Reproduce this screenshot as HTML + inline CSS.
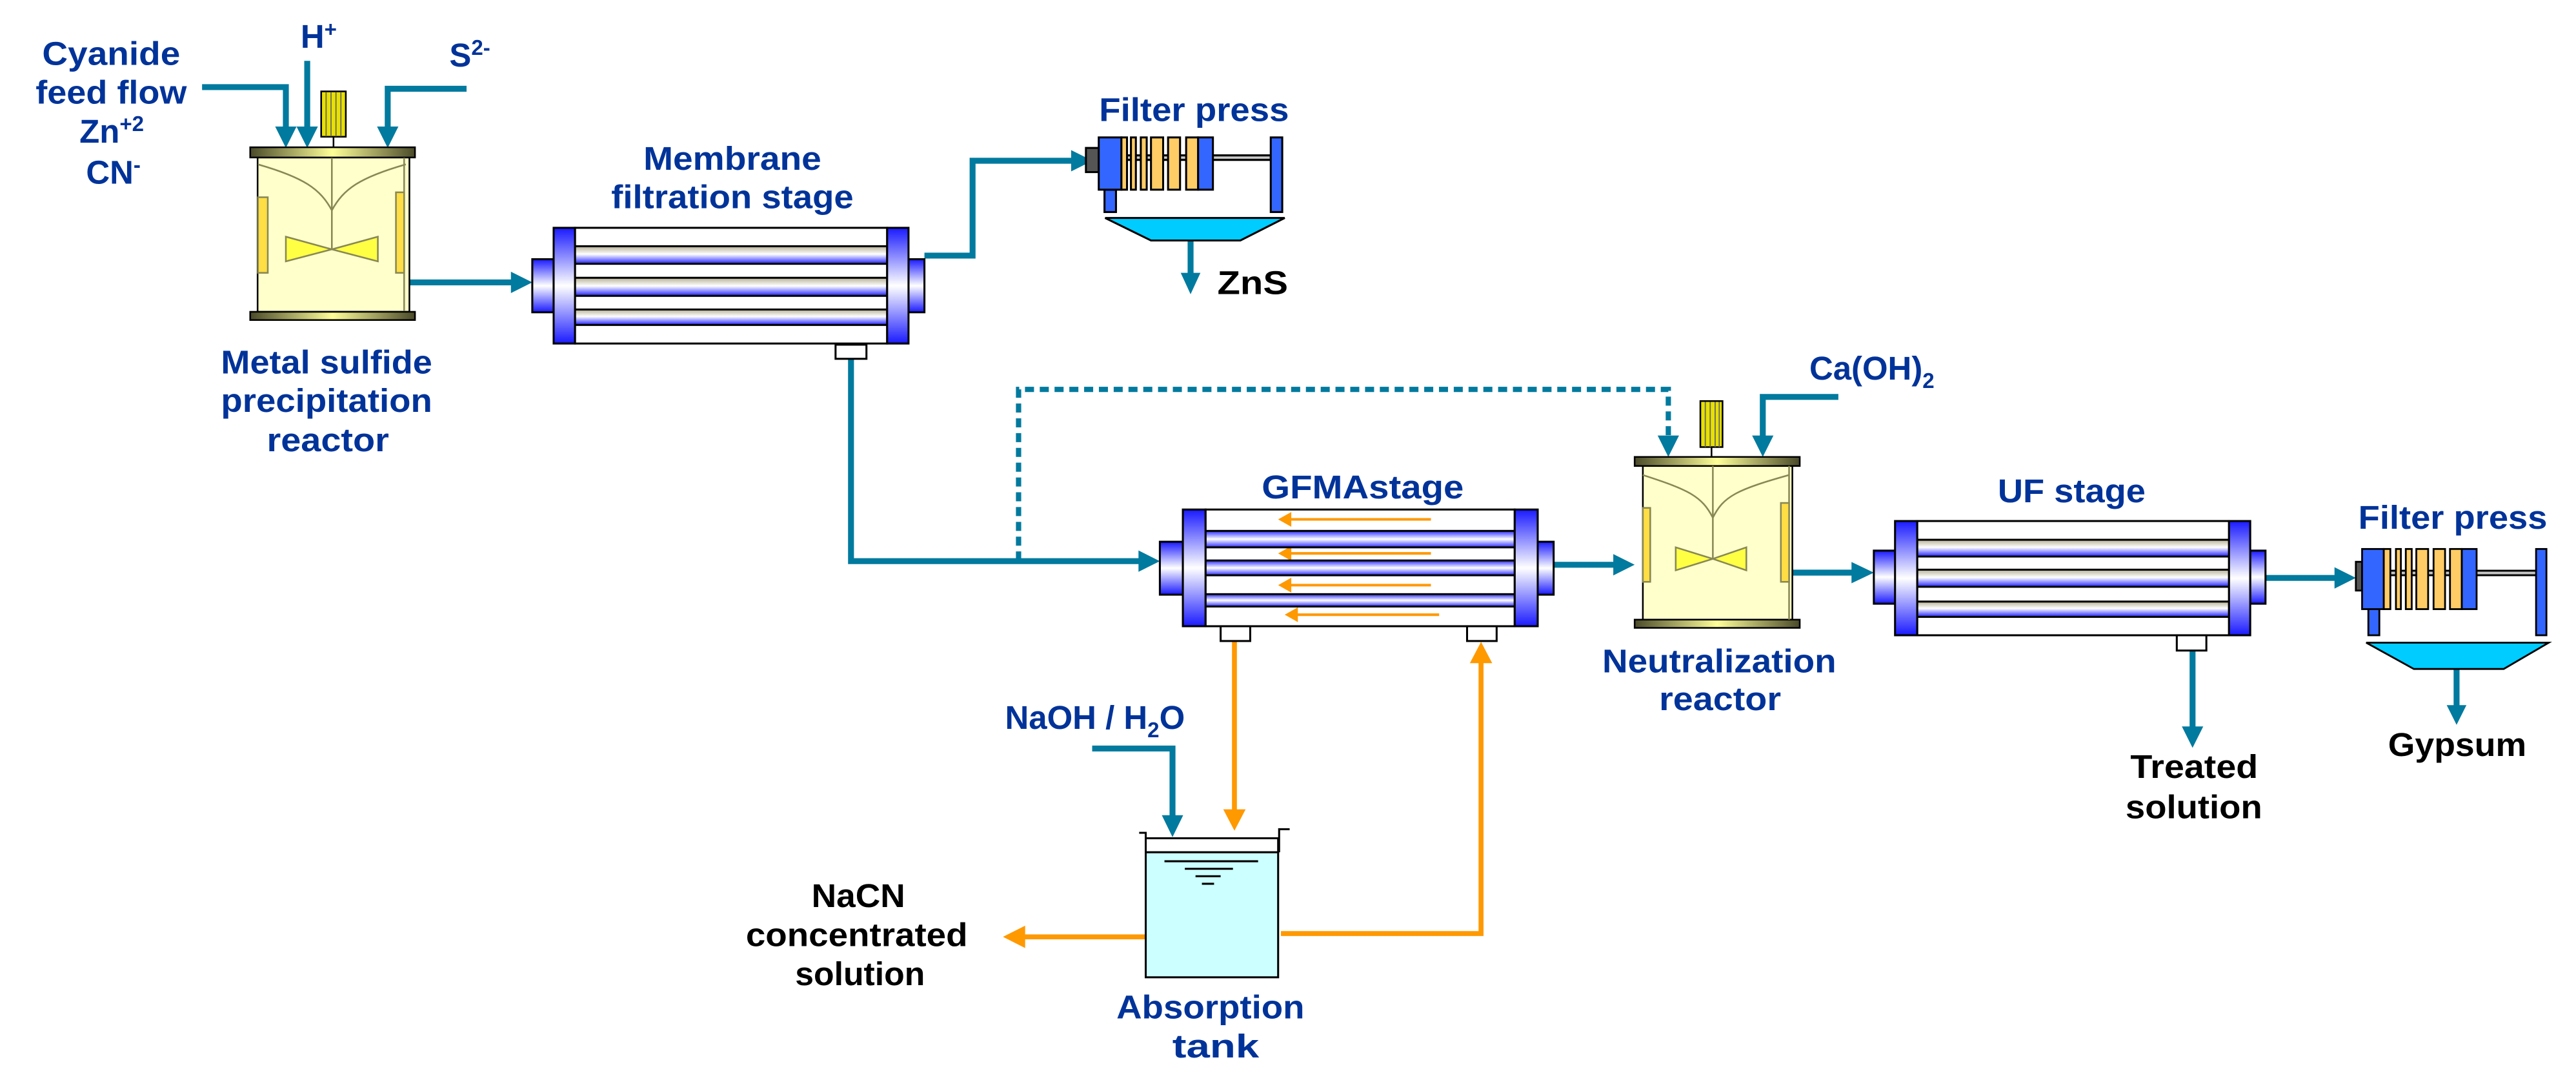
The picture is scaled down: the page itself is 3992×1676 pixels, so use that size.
<!DOCTYPE html>
<html><head><meta charset="utf-8"><style>
html,body{margin:0;padding:0;background:#fff;}
svg{display:block;}
text{font-family:"Liberation Sans",Arial,sans-serif;font-weight:bold;}
.b{fill:#003399;font-size:20px;}
.k{fill:#000;font-size:20px;}
</style></head><body>
<svg width="3992" height="1676" viewBox="0 0 1568 658.3" xmlns="http://www.w3.org/2000/svg">
<defs>
<linearGradient id="fl" x1="0" y1="0" x2="0" y2="1"><stop offset="0" stop-color="#1a1aff"/><stop offset="0.5" stop-color="#ffffff"/><stop offset="1" stop-color="#1a1aff"/></linearGradient>
<linearGradient id="tb" x1="0" y1="0" x2="0" y2="1"><stop offset="0" stop-color="#b5b095"/><stop offset="0.45" stop-color="#ffffff"/><stop offset="1" stop-color="#2020ff"/></linearGradient>
<linearGradient id="tg" x1="0" y1="0" x2="0" y2="1"><stop offset="0" stop-color="#2a2aff"/><stop offset="0.5" stop-color="#ffffff"/><stop offset="1" stop-color="#2a2aff"/></linearGradient>
<linearGradient id="cap" x1="0" y1="0" x2="1" y2="0"><stop offset="0" stop-color="#4a4a2a"/><stop offset="0.5" stop-color="#ffff99"/><stop offset="1" stop-color="#4a4a2a"/></linearGradient>
<linearGradient id="rod" x1="0" y1="0" x2="0" y2="1"><stop offset="0" stop-color="#666"/><stop offset="0.5" stop-color="#ddd"/><stop offset="1" stop-color="#666"/></linearGradient>
</defs>
<g fill="none" stroke="#007a9e" stroke-width="3.6">
<polyline points="123,53 174,53 174,80"/>
<polyline points="187,37 187,80"/>
<polyline points="284,54 236,54 236,80"/>
<polyline points="249,171.8 313,171.8"/>
<polyline points="562.7,155.5 592,155.5 592,97.8 654,97.8"/>
<polyline points="724.7,146.3 724.7,168"/>
<polyline points="518,218 518,341.4 695,341.4"/>
<polyline points="1119,241.5 1073,241.5 1073,267"/>
<polyline points="945.7,343.6 984,343.6"/>
<polyline points="1091,348.4 1129,348.4"/>
<polyline points="1379,351.6 1422,351.6"/>
<polyline points="1334.6,395.8 1334.6,443"/>
<polyline points="1495.3,407 1495.3,430"/>
<polyline points="664.8,455.4 713.7,455.4 713.7,498"/>
<polyline points="620,341 620,236.9 1015.5,236.9 1015.5,266" stroke-dasharray="5.5 3.5" stroke-width="3.2"/>
</g>
<g fill="#007a9e">
<polygon points="167.5,77 180.5,77 174,90"/>
<polygon points="180.5,77 193.5,77 187,90"/>
<polygon points="229.5,77 242.5,77 236,90"/>
<polygon points="311,165.3 311,178.3 324,171.8"/>
<polygon points="652,91.3 652,104.3 665,97.8"/>
<polygon points="718.7,166 730.7,166 724.7,179"/>
<polygon points="693,334.9 693,347.9 706,341.4"/>
<polygon points="1066.5,265 1079.5,265 1073,278"/>
<polygon points="1009,265 1022,265 1015.5,278"/>
<polygon points="982,337.1 982,350.1 995,343.6"/>
<polygon points="1127,341.9 1127,354.9 1140.6,348.4"/>
<polygon points="1421,345.1 1421,358.1 1434,351.6"/>
<polygon points="1328.1,442 1341.1,442 1334.6,455"/>
<polygon points="1489.3,429 1501.3,429 1495.3,441"/>
<polygon points="707.2,496 720.2,496 713.7,509.3"/>
</g>
<g fill="none" stroke="#ff9900" stroke-width="3">
<polyline points="751.4,390 751.4,494"/>
<polyline points="779.7,568 901.5,568 901.5,402"/>
<polyline points="697.4,570 622,570"/>
<polyline points="784,316 871,316" stroke-width="1.6"/><polyline points="784,336.7 871,336.7" stroke-width="1.6"/>
<polyline points="784,356 871,356" stroke-width="1.6"/><polyline points="788,374 876,374" stroke-width="1.6"/>
</g>
<g fill="#ff9900">
<polygon points="744.6,492.4 758.2,492.4 751.4,505.4"/>
<polygon points="894.7,403.5 908.3,403.5 901.5,390.5"/>
<polygon points="624,563.2 624,576.8 610.5,570"/>
<polygon points="786,311.5 786,320.5 778,316"/><polygon points="786,332.2 786,341.2 778,336.7"/>
<polygon points="786,351.5 786,360.5 778,356"/><polygon points="790,369.5 790,378.5 782,374"/>
</g>
<!-- Reactor 1 -->
<g stroke="#000" stroke-width="1">
<line x1="203" y1="83" x2="203" y2="90"/>
<rect x="195.5" y="55.6" width="15" height="27.6" fill="#e8e000"/>
<rect x="156.8" y="95.8" width="92.4" height="93.9" fill="#ffffcc"/>
<rect x="152.3" y="89.6" width="100.3" height="6.2" fill="url(#cap)"/>
<rect x="152.3" y="189.7" width="100.3" height="5" fill="url(#cap)"/>
</g>
<g stroke="#666" stroke-width="0.7"><line x1="198.5" y1="56" x2="198.5" y2="83"/><line x1="201.5" y1="56" x2="201.5" y2="83"/><line x1="204.5" y1="56" x2="204.5" y2="83"/><line x1="207.5" y1="56" x2="207.5" y2="83"/></g>
<g stroke="#888855" stroke-width="1" fill="none">
<line x1="202" y1="96" x2="202" y2="152"/>
<path d="M157,100 C185,108 195,115 202,128 C209,115 219,108 247,100"/>
<line x1="246" y1="96" x2="246" y2="189"/>
<rect x="157" y="120" width="6" height="46" fill="#ffdd44"/>
<rect x="241" y="117" width="5" height="49" fill="#ffdd44"/>
<polygon points="174,144 202,151.7 174,159 " fill="#ffff44"/>
<polygon points="230,144 202,151.7 230,159" fill="#ffff44"/>
</g>
<!-- Reactor 2 -->
<g stroke="#000" stroke-width="1">
<line x1="1041.8" y1="272" x2="1041.8" y2="278"/>
<rect x="1035" y="244" width="13.5" height="28" fill="#e8e000"/>
<rect x="1000" y="283" width="91" height="94" fill="#ffffcc"/>
<rect x="995" y="278" width="100.5" height="5.5" fill="url(#cap)"/>
<rect x="995" y="377" width="100.5" height="5" fill="url(#cap)"/>
</g>
<g stroke="#666" stroke-width="0.7"><line x1="1038" y1="244.5" x2="1038" y2="272"/><line x1="1041" y1="244.5" x2="1041" y2="272"/><line x1="1044" y1="244.5" x2="1044" y2="272"/><line x1="1046.5" y1="244.5" x2="1046.5" y2="272"/></g>
<g stroke="#888855" stroke-width="1" fill="none">
<line x1="1042.6" y1="283.5" x2="1042.6" y2="340"/>
<path d="M1000,289 C1028,298 1036,302 1042.6,315 C1049,302 1057,298 1089,289"/>
<line x1="1089" y1="283.5" x2="1089" y2="377"/>
<rect x="1000" y="309" width="4.5" height="45" fill="#ffdd44"/>
<rect x="1084" y="306" width="5" height="48" fill="#ffdd44"/>
<polygon points="1020,333 1042.6,340 1020,347" fill="#ffff44"/>
<polygon points="1063,333 1042.6,340 1063,347" fill="#ffff44"/>
</g>
<!-- Membrane module -->
<g stroke="#000" stroke-width="1.2">
<rect x="350" y="138.6" width="190" height="70.4" fill="#fff"/>
<rect x="350" y="149.8" width="190" height="10.7" fill="url(#tb)"/>
<rect x="350" y="169" width="190" height="11" fill="url(#tb)"/>
<rect x="350" y="188.3" width="190" height="9.4" fill="url(#tb)"/>
<rect x="324" y="157.7" width="13" height="32.3" fill="url(#fl)"/>
<rect x="553" y="157.7" width="9.7" height="32.3" fill="url(#fl)"/>
<rect x="337" y="138.6" width="13" height="70.4" fill="url(#fl)"/>
<rect x="540" y="138.6" width="13" height="70.4" fill="url(#fl)"/>
<rect x="508.6" y="209.7" width="18.8" height="8.6" fill="#fff"/>
</g>
<!-- GFMA module -->
<g stroke="#000" stroke-width="1.2">
<rect x="733.8" y="310" width="188.2" height="71" fill="none"/>
<rect x="733.8" y="323" width="188.2" height="10" fill="url(#tg)"/>
<rect x="733.8" y="341" width="188.2" height="9" fill="url(#tg)"/>
<rect x="733.8" y="361.5" width="188.2" height="7.5" fill="url(#tg)"/>
<rect x="706" y="329.6" width="14" height="32.2" fill="url(#fl)"/>
<rect x="936" y="329.6" width="9.7" height="32.2" fill="url(#fl)"/>
<rect x="720" y="310" width="13.8" height="71" fill="url(#fl)"/>
<rect x="922" y="310" width="14" height="71" fill="url(#fl)"/>
<rect x="743" y="381" width="18" height="9" fill="#fff"/>
<rect x="893" y="381" width="18" height="9" fill="#fff"/>
</g>
<!-- UF module -->
<g stroke="#000" stroke-width="1.2">
<rect x="1167" y="317" width="189.8" height="69.5" fill="#fff"/>
<rect x="1167" y="328.4" width="189.8" height="10.2" fill="url(#tb)"/>
<rect x="1167" y="346.6" width="189.8" height="10.4" fill="url(#tb)"/>
<rect x="1167" y="366" width="189.8" height="9.3" fill="url(#tb)"/>
<rect x="1140.6" y="335" width="13.8" height="32.3" fill="url(#fl)"/>
<rect x="1369.7" y="335" width="9.3" height="32.3" fill="url(#fl)"/>
<rect x="1153.5" y="317" width="13.5" height="69.5" fill="url(#fl)"/>
<rect x="1356.8" y="317" width="12.9" height="69.5" fill="url(#fl)"/>
<rect x="1325" y="386.5" width="18" height="9.3" fill="#fff"/>
</g>
<!-- Filter press 1 -->
<g stroke="#000" stroke-width="1.2">
<rect x="682" y="94.5" width="91.5" height="2.8" fill="url(#rod)"/>
<rect x="661" y="90" width="7.8" height="14.7" fill="#555"/>
<rect x="672.3" y="115.4" width="7" height="13.6" fill="#3366ff"/>
<rect x="668.8" y="83.6" width="13.8" height="31.8" fill="#3366ff"/>
<rect x="682.6" y="83.6" width="3.4" height="31.8" fill="#ffcc66"/>
<rect x="688.4" y="83.6" width="3" height="31.8" fill="#ffcc66"/>
<rect x="694.4" y="83.6" width="3.6" height="31.8" fill="#ffcc66"/>
<rect x="700.6" y="83.6" width="7.4" height="31.8" fill="#ffcc66"/>
<rect x="711" y="83.6" width="7.3" height="31.8" fill="#ffcc66"/>
<rect x="722" y="83.6" width="7.3" height="31.8" fill="#ffcc66"/>
<rect x="729.3" y="83.6" width="9" height="31.8" fill="#3366ff"/>
<rect x="773.5" y="83.6" width="7" height="45.4" fill="#3366ff"/>
<polygon points="672.7,132.6 782,132.6 755,146.3 700.6,146.3" fill="#00ccff"/>
</g>
<!-- Filter press 2 -->
<g stroke="#000" stroke-width="1.1">
<rect x="1451" y="347.2" width="93" height="2.8" fill="url(#rod)"/>
<rect x="1434" y="341.8" width="3.8" height="17.5" fill="#555"/>
<rect x="1441.6" y="370.6" width="6.7" height="15.9" fill="#3366ff"/>
<rect x="1437.8" y="334" width="13.2" height="36.6" fill="#3366ff"/>
<rect x="1451" y="334" width="4" height="36.6" fill="#ffcc66"/>
<rect x="1458.4" y="334" width="3" height="36.6" fill="#ffcc66"/>
<rect x="1464.4" y="334" width="3.6" height="36.6" fill="#ffcc66"/>
<rect x="1470.8" y="334" width="7.2" height="36.6" fill="#ffcc66"/>
<rect x="1481.3" y="334" width="7" height="36.6" fill="#ffcc66"/>
<rect x="1491.3" y="334" width="7.2" height="36.6" fill="#ffcc66"/>
<rect x="1498.5" y="334" width="9" height="36.6" fill="#3366ff"/>
<rect x="1543.7" y="334" width="6.3" height="52.5" fill="#3366ff"/>
<polygon points="1440.3,391 1551.4,391 1524,407 1469.3,407" fill="#00ccff"/>
</g>
<!-- Absorption tank -->
<g stroke="#000" stroke-width="1.2">
<rect x="697.4" y="518.5" width="80.6" height="76.1" fill="#ccffff"/>
<rect x="697.4" y="510" width="80.6" height="8.5" fill="#fff"/>
<polyline points="693.4,506.7 697.4,506.7 697.4,510" fill="none"/>
<polyline points="778.6,518.5 778.6,504.5 785,504.5" fill="none"/>
<line x1="708.8" y1="524" x2="765.8" y2="524"/>
<line x1="721.2" y1="528.6" x2="750.5" y2="528.6"/>
<line x1="727.7" y1="533.1" x2="743" y2="533.1"/>
<line x1="731.6" y1="537.7" x2="739" y2="537.7"/>
</g>
<!-- Labels -->
<text class="b" x="67.7" y="39.5" text-anchor="middle" textLength="84" lengthAdjust="spacingAndGlyphs">Cyanide</text>
<text class="b" x="67.7" y="63" text-anchor="middle" textLength="92" lengthAdjust="spacingAndGlyphs">feed flow</text>
<text class="b" x="68" y="86.8" text-anchor="middle">Zn<tspan font-size="13" dy="-7">+2</tspan></text>
<text class="b" x="69" y="111.7" text-anchor="middle">CN<tspan font-size="13" dy="-7">-</tspan></text>
<text class="b" x="194" y="29.1" text-anchor="middle">H<tspan font-size="13" dy="-7">+</tspan></text>
<text class="b" x="286" y="40.4" text-anchor="middle">S<tspan font-size="13" dy="-7">2-</tspan></text>
<text class="b" x="198.8" y="227.2" text-anchor="middle" textLength="128.6" lengthAdjust="spacingAndGlyphs">Metal sulfide</text>
<text class="b" x="198.8" y="250.6" text-anchor="middle" textLength="128.6" lengthAdjust="spacingAndGlyphs">precipitation</text>
<text class="b" x="199.6" y="274.5" text-anchor="middle" textLength="74.4" lengthAdjust="spacingAndGlyphs">reactor</text>
<text class="b" x="445.8" y="103.3" text-anchor="middle" textLength="108.3" lengthAdjust="spacingAndGlyphs">Membrane</text>
<text class="b" x="445.8" y="126.7" text-anchor="middle" textLength="147.5" lengthAdjust="spacingAndGlyphs">filtration stage</text>
<text class="b" x="726.8" y="73.6" text-anchor="middle" textLength="115.6" lengthAdjust="spacingAndGlyphs">Filter press</text>
<text class="k" x="762.5" y="179" text-anchor="middle" textLength="43" lengthAdjust="spacingAndGlyphs">ZnS</text>
<text class="b" x="829.5" y="303.3" text-anchor="middle" textLength="123" lengthAdjust="spacingAndGlyphs">GFMAstage</text>
<text class="b" x="1139.4" y="231" text-anchor="middle">Ca(OH)<tspan font-size="13" dy="5">2</tspan></text>
<text class="b" x="1046.5" y="409" text-anchor="middle" textLength="142.4" lengthAdjust="spacingAndGlyphs">Neutralization</text>
<text class="b" x="1047" y="432" text-anchor="middle" textLength="74.2" lengthAdjust="spacingAndGlyphs">reactor</text>
<text class="b" x="1261" y="305.6" text-anchor="middle" textLength="90" lengthAdjust="spacingAndGlyphs">UF stage</text>
<text class="b" x="1493" y="321.7" text-anchor="middle" textLength="115" lengthAdjust="spacingAndGlyphs">Filter press</text>
<text class="k" x="1335.6" y="473.3" text-anchor="middle" textLength="77.7" lengthAdjust="spacingAndGlyphs">Treated</text>
<text class="k" x="1335.4" y="497.8" text-anchor="middle" textLength="83.2" lengthAdjust="spacingAndGlyphs">solution</text>
<text class="k" x="1495.7" y="460" text-anchor="middle" textLength="84.2" lengthAdjust="spacingAndGlyphs">Gypsum</text>
<text class="b" x="666.5" y="443.5" text-anchor="middle">NaOH / H<tspan font-size="13" dy="5">2</tspan><tspan dy="-5">O</tspan></text>
<text class="k" x="522.5" y="551.8" text-anchor="middle" textLength="57" lengthAdjust="spacingAndGlyphs">NaCN</text>
<text class="k" x="521.5" y="575.6" text-anchor="middle" textLength="135" lengthAdjust="spacingAndGlyphs">concentrated</text>
<text class="k" x="523.5" y="599.4" text-anchor="middle" textLength="79" lengthAdjust="spacingAndGlyphs">solution</text>
<text class="b" x="736.8" y="619.7" text-anchor="middle" textLength="114.5" lengthAdjust="spacingAndGlyphs">Absorption</text>
<text class="b" x="740" y="643.4" text-anchor="middle" textLength="52.8" lengthAdjust="spacingAndGlyphs">tank</text>
</svg>
</body></html>
